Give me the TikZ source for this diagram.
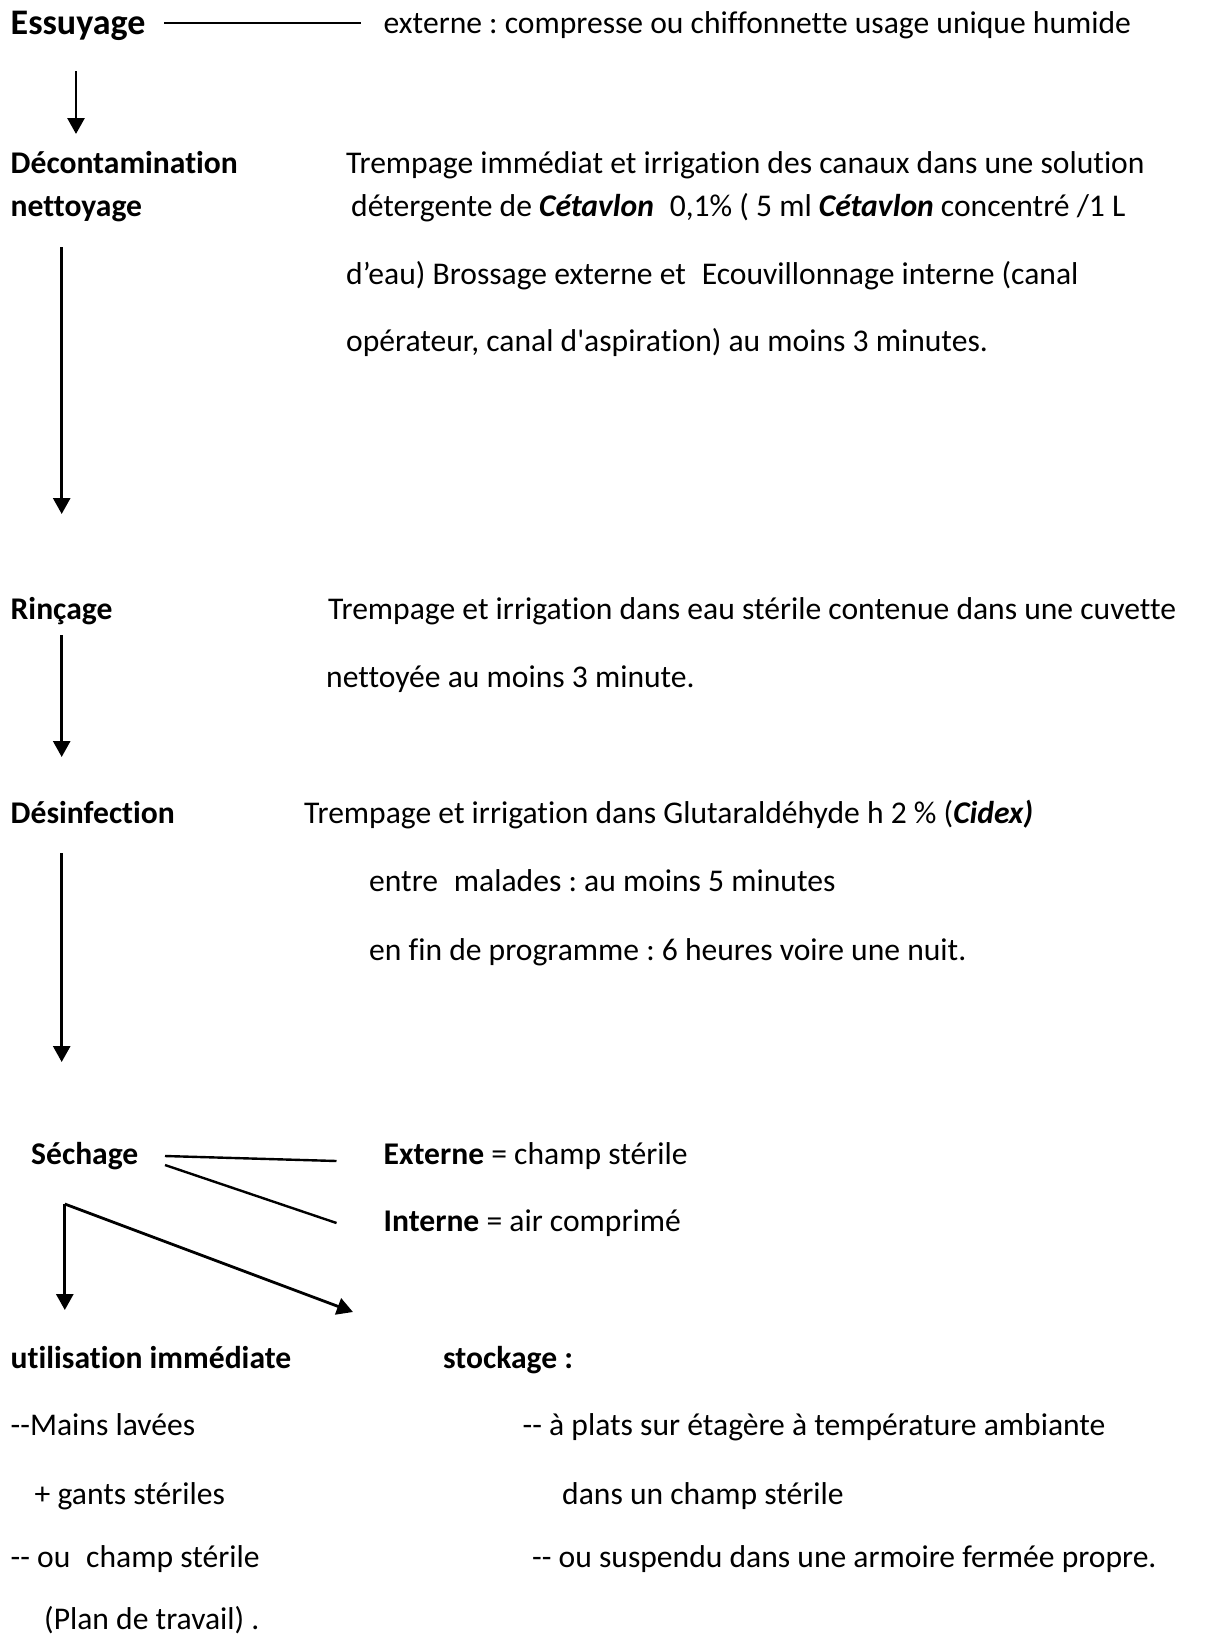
\documentclass[tikz,border=0pt]{standalone}
\usepackage{fontspec}
\setmainfont{Carlito}[Ligatures={TeXOff,NoCommon}]
\usetikzlibrary{arrows.meta}
\begin{document}
\frenchspacing
\begin{tikzpicture}[x=1pt,y=-1pt,
  txt/.style={anchor=west,inner sep=0pt,text height=20.4pt,text depth=0pt,font=\fontsize{31.6}{38}\selectfont\frenchspacing},
  big/.style={anchor=west,inner sep=0pt,text height=23.2pt,text depth=0pt,font=\fontsize{36}{43}\selectfont\bfseries},
  bld/.style={txt,font=\fontsize{31.6}{38}\selectfont\bfseries\frenchspacing},
  ln/.style={line width=2.4pt},
  arr/.style={line width=2.8pt,-{Triangle[width=17pt,length=16pt]}}]
\useasboundingbox (0,0) rectangle (1205,1639);
% Essuyage
\node[big] (ess) at (10.5,23) {Essuyage};
\node[txt] (essd) at (383.5,23) {externe : compresse ou chiffonnette usage unique humide};
\coordinate (essl) at (164,23);
\coordinate (essr) at (361,23);
\draw[ln] (essl) -- (essr);
\coordinate (a1s) at (76,71);
\coordinate (a1e) at (76,134);
\draw[arr] (a1s) -- (a1e);
% Decontamination
\node[bld] (dec) at (10.5,163) {Décontamination};
\node[bld] (net) at (10.5,206) {nettoyage};
\node[txt] (dec1) at (346,163) {Trempage immédiat et irrigation des canaux dans une solution};
\node[txt] (dec2) at (351,206) {détergente de \textbf{\textit{Cétavlon}}\hspace{0.5em}0,1\% ( 5 ml \textbf{\textit{Cétavlon}} concentré /1 L};
\node[txt] (dec3) at (346,274) {d’eau) Brossage externe et\hspace{0.5em}Ecouvillonnage interne (canal};
\node[txt] (dec4) at (346,341) {opérateur, canal d'aspiration) au moins 3 minutes.};
\coordinate (a2s) at (61.7,247);
\coordinate (a2e) at (61.7,514);
\draw[arr] (a2s) -- (a2e);
% Rincage
\node[bld] (rin) at (10.5,609) {Rinçage};
\node[txt] (rin1) at (328,609) {Trempage et irrigation dans eau stérile contenue dans une cuvette};
\node[txt] (rin2) at (326,677) {nettoyée au moins 3 minute.};
\coordinate (a3s) at (61.7,635);
\coordinate (a3e) at (61.7,757);
\draw[arr] (a3s) -- (a3e);
% Desinfection
\node[bld] (des) at (10.5,813) {Désinfection};
\node[txt] (des1) at (304,813) {Trempage et irrigation dans Glutaraldéhyde h 2 \% (\textbf{\textit{Cidex)}}};
\node[txt] (des2) at (369,881) {entre\hspace{0.5em}malades : au moins 5 minutes};
\node[txt] (des3) at (369,950) {en fin de programme : 6 heures voire une nuit.};
\coordinate (a4s) at (61.7,853);
\coordinate (a4e) at (61.7,1062);
\draw[arr] (a4s) -- (a4e);
% Sechage
\node[bld] (sec) at (31,1154) {Séchage};
\node[txt] (ext) at (383.5,1154) {\textbf{Externe} = champ stérile};
\node[txt] (int) at (383.5,1221) {\textbf{Interne} = air comprimé};
\coordinate (s1) at (165,1156);
\coordinate (s1e) at (336.5,1161);
\coordinate (s2) at (165,1165);
\coordinate (s2e) at (336.5,1223);
\draw[ln] (s1) -- (s1e);
\draw[ln] (s2) -- (s2e);
\coordinate (corner) at (64.8,1204);
\coordinate (b1) at (64.8,1310);
\coordinate (b2) at (353,1312);
\draw[arr] (corner) -- (b1);
\draw[arr] (corner) -- (b2);
% bottom
\node[bld] (uti) at (10.5,1358) {utilisation immédiate};
\node[bld] (sto) at (443,1358) {stockage :};
\node[txt] (u1) at (10.5,1425.5) {--Mains lavées};
\node[txt] (u2) at (34.5,1494.5) {+ gants stériles};
\node[txt] (u3) at (10.5,1557) {-- ou\hspace{0.5em}champ stérile};
\node[txt] (u4) at (44,1619) {(Plan de travail) .};
\node[txt] (t1) at (522.5,1425.5) {-- à plats sur étagère à température ambiante};
\node[txt] (t2) at (562,1494.5) {dans un champ stérile};
\node[txt] (t3) at (532,1557) {-- ou suspendu dans une armoire fermée propre.};
\end{tikzpicture}
\end{document}
